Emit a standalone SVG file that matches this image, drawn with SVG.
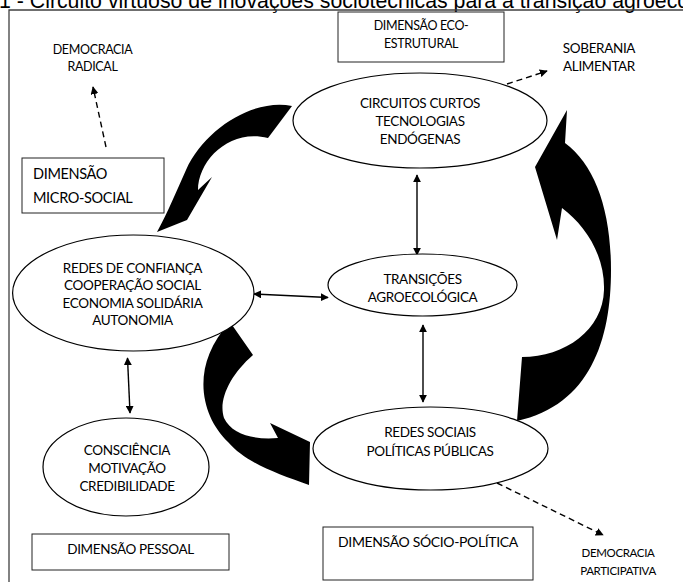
<svg xmlns="http://www.w3.org/2000/svg" width="683" height="582" viewBox="0 0 683 582">
<defs>
<style>
.lbl{font-family:Lato,"Liberation Sans",sans-serif;fill:#000;text-anchor:middle;letter-spacing:-0.35px}
.el{fill:#fff;stroke:#000;stroke-width:1.2}
.box{fill:#fff;stroke:#222;stroke-width:1}
.blk{fill:#000;stroke:none}
.dbl{stroke:#000;stroke-width:1.4;fill:none;marker-start:url(#ah);marker-end:url(#ah)}
.dsh{stroke:#000;stroke-width:1.4;fill:none;stroke-dasharray:6 4;marker-end:url(#ah)}
</style>
<marker id="ah" viewBox="0 0 10 10" refX="9" refY="5" markerWidth="8" markerHeight="8" markerUnits="userSpaceOnUse" orient="auto-start-reverse">
<path d="M0,0 L10,5 L0,10 Z" fill="#000"/>
</marker>
</defs>
<rect width="683" height="582" fill="#fff"/>
<text x="-1" y="7.5" font-family="Liberation Sans,Arial,sans-serif" font-size="21.3" fill="#000">1 - Circuito virtuoso de inovações sociotécnicas para a transição agroecológica</text>
<path d="M9,582 L9,10 L683,10" fill="none" stroke="#404040" stroke-width="1.3"/>

<g id="connectors">
<path class="blk" d="M292,106 C255,98 205,128 186,170 C176,192 168,212 157,232 L187,220 L212,177 L198,190 C198,160 230,128 268,138 Z"/>
<path class="blk" d="M230,322 L253,355 C230,375 218,400 224,418 C232,435 255,440 278,438 L270,423 L310,442 L309,485 C275,473 245,462 228,442 C200,415 190,365 230,322 Z"/>
<path class="blk" d="M522,357 C565,357 603,330 604,290 C605,255 585,225 562,208 L557,240 L535,167 L567,110 L565,143 C595,165 611,210 611,270 C611,340 590,405 517,421 Z"/>
<line class="dsh" x1="106" y1="147" x2="93" y2="87"/>
<line class="dsh" x1="507" y1="84" x2="547" y2="71"/>
<line class="dsh" x1="497" y1="483" x2="603" y2="535"/>
<line class="dbl" x1="417" y1="175" x2="417" y2="255"/>
<line class="dbl" x1="423" y1="325" x2="423" y2="402"/>
<line class="dbl" x1="254" y1="294" x2="328" y2="297.5"/>
<line class="dbl" x1="127.5" y1="358" x2="130" y2="413"/>
</g>

<g id="eco-box">
<rect class="box" x="338" y="12" width="166" height="50"/>
<text class="lbl" x="421" y="30" font-size="12.5">DIMENSÃO ECO-</text>
<text class="lbl" x="421" y="48" font-size="12.5">ESTRUTURAL</text>
</g>
<g id="democracia-radical">
<text class="lbl" x="92.5" y="54" font-size="12.5">DEMOCRACIA</text>
<text class="lbl" x="92.5" y="71" font-size="12.5">RADICAL</text>
</g>
<g id="soberania">
<text class="lbl" x="599" y="53" font-size="13.5">SOBERANIA</text>
<text class="lbl" x="599" y="71" font-size="13.5">ALIMENTAR</text>
</g>
<g id="micro-social">
<rect class="box" x="22" y="158" width="142" height="55"/>
<text class="lbl" x="33" y="179" font-size="14.5" style="text-anchor:start">DIMENSÃO</text>
<text class="lbl" x="33" y="203" font-size="14.5" style="text-anchor:start">MICRO-SOCIAL</text>
</g>
<g id="circuitos">
<ellipse class="el" cx="420" cy="120.5" rx="127" ry="47.5"/>
<text class="lbl" x="420" y="108" font-size="13.5">CIRCUITOS CURTOS</text>
<text class="lbl" x="420" y="126" font-size="13.5">TECNOLOGIAS</text>
<text class="lbl" x="420" y="144" font-size="13.5">ENDÓGENAS</text>
</g>
<g id="transicoes">
<ellipse class="el" cx="422.5" cy="285" rx="94.5" ry="31"/>
<text class="lbl" x="422.5" y="284" font-size="13.5">TRANSIÇÕES</text>
<text class="lbl" x="422.5" y="302" font-size="13.5">AGROECOLÓGICA</text>
</g>
<g id="redes-confianca">
<ellipse class="el" cx="133.3" cy="293" rx="120.7" ry="58"/>
<text class="lbl" x="132.5" y="273" font-size="13.5">REDES DE CONFIANÇA</text>
<text class="lbl" x="132.5" y="290" font-size="13.5">COOPERAÇÃO SOCIAL</text>
<text class="lbl" x="132.5" y="307.5" font-size="13.5">ECONOMIA SOLIDÁRIA</text>
<text class="lbl" x="132.5" y="325" font-size="13.5">AUTONOMIA</text>
</g>
<g id="consciencia">
<ellipse class="el" cx="126" cy="467" rx="83" ry="49"/>
<text class="lbl" x="127" y="455" font-size="13.5">CONSCIÊNCIA</text>
<text class="lbl" x="127" y="473" font-size="13.5">MOTIVAÇÃO</text>
<text class="lbl" x="127" y="490.5" font-size="13.5">CREDIBILIDADE</text>
</g>
<g id="redes-sociais">
<ellipse class="el" cx="430.5" cy="448.5" rx="117.5" ry="41.5"/>
<text class="lbl" x="430" y="437" font-size="13.5">REDES SOCIAIS</text>
<text class="lbl" x="430" y="456" font-size="13.5">POLÍTICAS PÚBLICAS</text>
</g>
<g id="pessoal">
<rect class="box" x="32" y="534" width="197" height="36"/>
<text class="lbl" x="130.5" y="554" font-size="13.5">DIMENSÃO PESSOAL</text>
</g>
<g id="socio-politica">
<rect class="box" x="323" y="527" width="210" height="53"/>
<text class="lbl" x="428" y="547" font-size="14">DIMENSÃO SÓCIO-POLÍTICA</text>
</g>
<g id="democracia-participativa">
<text class="lbl" x="618" y="557" font-size="11.5">DEMOCRACIA</text>
<text class="lbl" x="618" y="575" font-size="11.5">PARTICIPATIVA</text>
</g>
</svg>
